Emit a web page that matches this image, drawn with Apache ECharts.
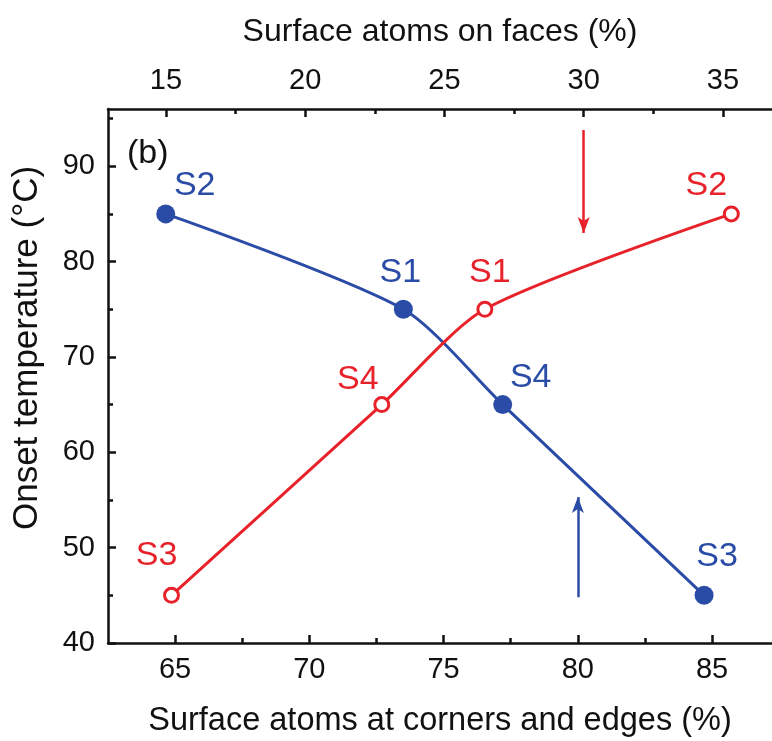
<!DOCTYPE html>
<html>
<head>
<meta charset="utf-8">
<script src="https://cdn.jsdelivr.net/npm/echarts@6/dist/echarts.min.js"></script>
<style>html,body{margin:0;padding:0;background:#fff}#c{width:772px;height:741px}</style>
</head>
<body>
<div id="c"></div>
<script>
// ---- data ----
const samples = ['S2', 'S1', 'S4', 'S3'];
const cornerEdgePct = [64.65, 73.5, 77.2, 84.7];   // bottom axis (blue, filled)
const facesSamples = ['S3', 'S4', 'S1', 'S2'];
const facesPct = [15.2, 22.75, 26.45, 35.3];        // top axis (red, open)
const onsetBlue = [85, 75, 65, 45];
const onsetRed = [45, 65, 75, 85];
const bottomTicks = [65, 70, 75, 80, 85];
const bottomMinor = [67.5, 72.5, 77.5, 82.5];
const topTicks = [15, 20, 25, 30, 35];
const topMinor = [17.5, 22.5, 27.5, 32.5];
const leftTicks = [40, 50, 60, 70, 80, 90];
const leftMinor = [45, 55, 65, 75, 85, 95];
const blueArrow = [[80, 44.8], [80, 55.3]];
const redArrow = [[30, 93.8], [30, 83.0]];

const BLUE = '#2b4ca6';
const RED = '#e8222a';
const FONT = 'Liberation Sans, Arial, sans-serif';

const blueOffsets = {S2: [29, -28], S1: [-3, -37], S4: [28, -27], S3: [13, -39]};
const redOffsets = {S3: [-15, -40], S4: [-24, -25], S1: [5, -37], S2: [-25, -28]};

function mkData(xs, ys, names, offsets, color) {
  return xs.map((x, i) => ({
    value: [x, ys[i]],
    name: names[i],
    label: {
      show: true, position: 'inside', offset: offsets[names[i]],
      formatter: names[i], color: color, fontSize: 34, fontFamily: FONT
    }
  }));
}

const axisLineStyle = {show: true, lineStyle: {color: '#111', width: 2.5}};
const labelStyle = {color: '#111', fontSize: 29, fontFamily: FONT};
const nameStyle = {color: '#111', fontSize: 32.5, fontFamily: FONT};

const chart = echarts.init(document.getElementById('c'), null, {renderer: 'canvas'});
chart.setOption({
  backgroundColor: '#fff',
  animation: false,
  title: {text: '(b)', left: 122, top: 132, textStyle: {color: '#111', fontSize: 34, fontWeight: 'normal', fontFamily: FONT}},
  grid: {left: 108, top: 109, right: 0, bottom: 98, outerBoundsMode: 'none', containLabel: false},
  xAxis: [
    {
      type: 'value', position: 'bottom', min: 62.5, max: 87.23,
      name: 'Surface atoms at corners and edges (%)', nameLocation: 'middle', nameGap: 62,
      nameTextStyle: nameStyle,
      axisLine: axisLineStyle,
      axisTick: {show: true, inside: true, length: 8, lineStyle: {color: '#111', width: 2.5}, customValues: bottomTicks},
      axisLabel: Object.assign({margin: 12, customValues: bottomTicks}, labelStyle),
      splitLine: {show: false}
    },
    {
      type: 'value', position: 'top', min: 12.92, max: 36.76,
      name: 'Surface atoms on faces (%)', nameLocation: 'middle', nameGap: 61,
      nameTextStyle: Object.assign({}, nameStyle, {fontSize: 32}),
      axisLine: axisLineStyle,
      axisTick: {show: true, inside: true, length: 8, lineStyle: {color: '#111', width: 2.5}, customValues: topTicks},
      axisLabel: Object.assign({margin: 14, customValues: topTicks}, labelStyle),
      splitLine: {show: false}
    },
    {
      type: 'value', position: 'bottom', min: 62.5, max: 87.23,
      axisLine: {show: false},
      axisTick: {show: true, inside: true, length: 5, lineStyle: {color: '#111', width: 2.5}, customValues: bottomMinor},
      axisLabel: {show: false}, splitLine: {show: false}
    },
    {
      type: 'value', position: 'top', min: 12.92, max: 36.76,
      axisLine: {show: false},
      axisTick: {show: true, inside: true, length: 5, lineStyle: {color: '#111', width: 2.5}, customValues: topMinor},
      axisLabel: {show: false}, splitLine: {show: false}
    }
  ],
  yAxis: [
    {
      type: 'value', position: 'left', min: 40, max: 96,
      name: 'Onset temperature (°C)', nameLocation: 'middle', nameGap: 63,
      nameTextStyle: Object.assign({}, nameStyle, {fontSize: 35, padding: [0, 0, 0, 56]}),
      axisLine: axisLineStyle,
      axisTick: {show: true, inside: true, length: 8, lineStyle: {color: '#111', width: 2.5}, customValues: leftTicks},
      axisLabel: Object.assign({margin: 13, customValues: leftTicks}, labelStyle),
      splitLine: {show: false}
    },
    {
      type: 'value', position: 'left', min: 40, max: 96,
      axisLine: {show: false},
      axisTick: {show: true, inside: true, length: 5, lineStyle: {color: '#111', width: 2.5}, customValues: leftMinor},
      axisLabel: {show: false}, splitLine: {show: false}
    }
  ],
  series: [
    {
      type: 'line', xAxisIndex: 0, yAxisIndex: 0, smooth: 0.25,
      data: mkData(cornerEdgePct, onsetBlue, samples, blueOffsets, BLUE),
      symbol: 'circle', symbolSize: 19,
      lineStyle: {color: BLUE, width: 3},
      itemStyle: {color: BLUE, borderColor: BLUE, borderWidth: 0},
      z: 3,
      markLine: {
        silent: true, symbol: ['none', 'arrow'], symbolSize: [9, 16],
        label: {show: false},
        lineStyle: {color: BLUE, width: 2.5, type: 'solid'},
        data: [[{coord: blueArrow[0]}, {coord: blueArrow[1]}]]
      }
    },
    {
      type: 'line', xAxisIndex: 1, yAxisIndex: 0, smooth: 0.25,
      data: mkData(facesPct, onsetRed, facesSamples, redOffsets, RED),
      symbol: 'circle', symbolSize: 14,
      lineStyle: {color: RED, width: 3},
      itemStyle: {color: '#fff', borderColor: RED, borderWidth: 3},
      z: 4,
      markLine: {
        silent: true, symbol: ['none', 'arrow'], symbolSize: [9, 16],
        label: {show: false},
        lineStyle: {color: RED, width: 2.5, type: 'solid'},
        data: [[{coord: redArrow[0]}, {coord: redArrow[1]}]]
      }
    }
  ]
});
</script>
</body>
</html>
